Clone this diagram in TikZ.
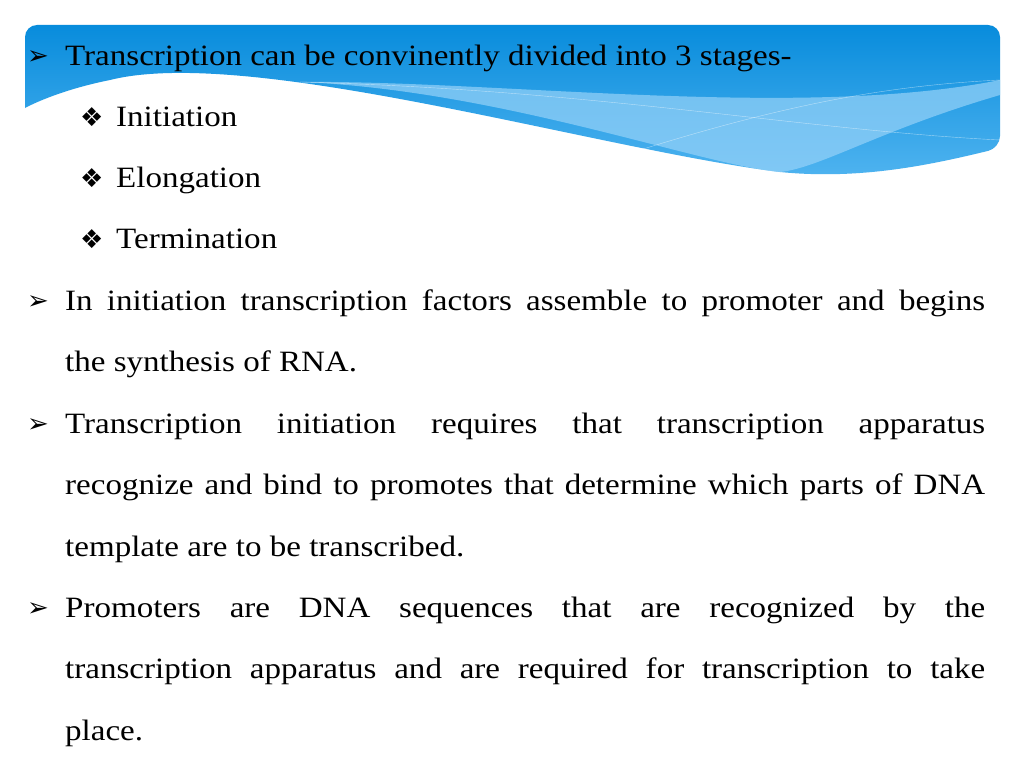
\documentclass[tikz,border=0pt]{standalone}
\usepackage{fontspec}
\setmainfont{Liberation Serif}[FakeStretch=1.12]
\newfontfamily\symf{DejaVu Sans}
\definecolor{hdA}{RGB}{8,140,220}
\definecolor{hdB}{RGB}{80,180,240}
\definecolor{hdC}{RGB}{150,210,248}
\begin{document}
\begin{tikzpicture}[x=1pt,y=-1pt,
  ln/.style={anchor=base west,inner sep=0pt,font=\fontsize{29.5}{30}\selectfont},
  bul/.style={anchor=base west,inner sep=0pt,font=\symf\fontsize{26}{26}\selectfont}]
\useasboundingbox (0,0) rectangle (1024,768);
\fill[white] (0,0) rectangle (1024,768);
\shade[top color=hdA, bottom color=hdB, rounded corners=12pt]
  (25,108) -- (25,25) -- (1000,25) -- (1000,148)
  [sharp corners] .. controls (930,165) and (860,180) .. (780,172)
  .. controls (600,150) and (250,45) .. (110,80)
  .. controls (70,88) and (40,100) .. (25,108) -- cycle;
\fill[hdC,opacity=0.7] (1000,95) .. controls (880,130) and (820,168) .. (780,172)
  .. controls (700,165) and (500,90) .. (300,82) .. controls (500,80) and (800,120) .. (1000,80) -- cycle;
\draw[white,opacity=0.5] (640,150) .. controls (800,100) and (900,85) .. (1000,80);
\draw[white,opacity=0.5] (300,82) .. controls (600,90) and (800,130) .. (1000,140);
\node[bul] (b1) at (27,64) {➢};
\node[ln] (t1) at (65,65) {Transcription can be convinently divided into 3 stages-};
\node[bul] (d1) at (80,126) {❖}; \node[ln] (s1) at (116,126) {Initiation};
\node[bul] (d2) at (80,187) {❖}; \node[ln] (s2) at (116,187) {Elongation};
\node[bul] (d3) at (80,248) {❖}; \node[ln] (s3) at (116,248) {Termination};
\node[bul] (b2) at (27,309) {➢};
\node[ln] (p2a) at (65,310) {\makebox[920pt][s]{In initiation transcription factors assemble to promoter and begins}};
\node[ln] (p2b) at (65,371) {the synthesis of RNA.};
\node[bul] (b3) at (27,432) {➢};
\node[ln] (p3a) at (65,433) {\makebox[920pt][s]{Transcription initiation requires that transcription apparatus}};
\node[ln] (p3b) at (65,494) {\makebox[920pt][s]{recognize and bind to promotes that determine which parts of DNA}};
\node[ln] (p3c) at (65,556) {template are to be transcribed.};
\node[bul] (b4) at (27,616) {➢};
\node[ln] (p4a) at (65,617) {\makebox[920pt][s]{Promoters are DNA sequences that are recognized by the}};
\node[ln] (p4b) at (65,678) {\makebox[920pt][s]{transcription apparatus and are required for transcription to take}};
\node[ln] (p4c) at (65,740) {place.};
\end{tikzpicture}
\end{document}
